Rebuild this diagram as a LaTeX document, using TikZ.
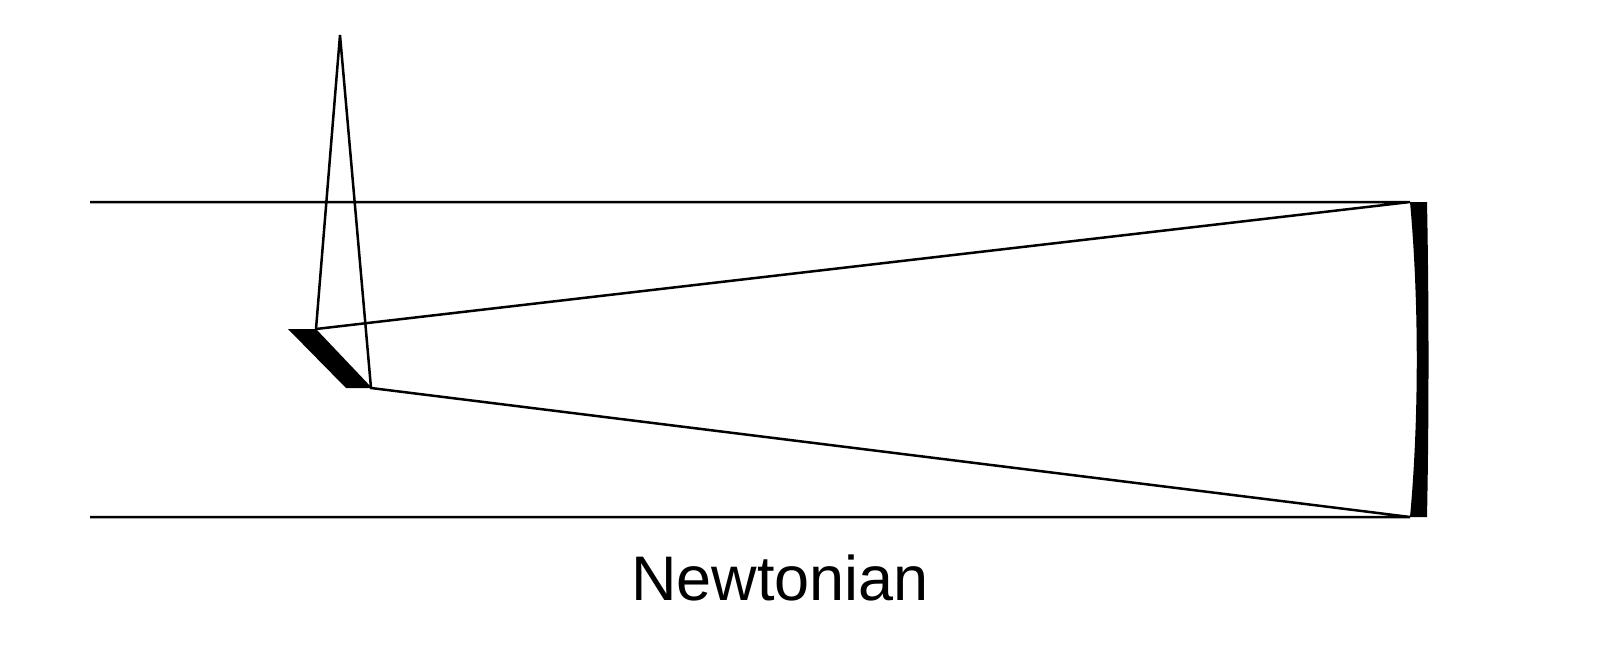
\documentclass[tikz,border=0pt]{standalone}
\usepackage{fontspec}
\setmainfont{Liberation Sans}
\begin{document}
\begin{tikzpicture}[x=1pt,y=-1pt,ray/.style={line width=2.5pt,line join=miter}]
\useasboundingbox[fill=white] (0,0) rectangle (1600,658);
\coordinate (tl) at (90,202);
\coordinate (bl) at (90,517);
\coordinate (pt) at (1410,202);
\coordinate (pb) at (1410,517);
\coordinate (s1) at (316,329);
\coordinate (s2) at (371,388);
\coordinate (f) at (340,35);
\draw[ray] (tl) -- (pt) -- (s1) -- (f) -- (s2) -- (pb) -- (bl);
\fill (288,329) -- (316,329) -- (372,388) -- (346,388) -- cycle;
\fill (pt) .. controls (1419,300) and (1419,420) .. (pb) -- (1427,517) .. controls (1429,420) and (1429,300) .. (1427,202) -- cycle;
\node[font=\fontsize{63}{70}\selectfont] (lbl) at (780,578) {Newtonian};
\end{tikzpicture}
\end{document}
